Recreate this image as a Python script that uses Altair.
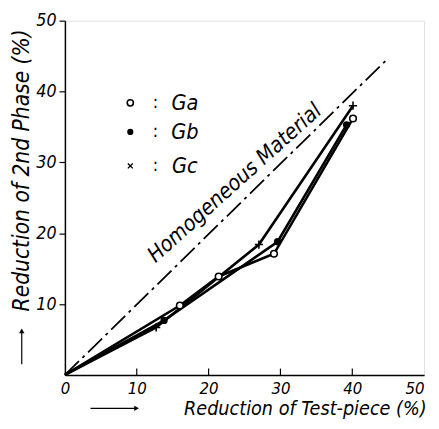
import altair as alt
import pandas as pd

# ---- data ----
series_names = ["Ga", "Gb", "Gc"]
ga_x = [0, 16.0, 21.4, 29.1, 40.1]
ga_y = [0, 9.8, 13.9, 17.1, 36.2]
gb_x = [0, 13.8, 29.6, 39.2]
gb_y = [0, 7.7, 18.8, 35.3]
gc_x = [0, 12.7, 27.0, 40.1]
gc_y = [0, 6.7, 18.4, 38.0]
homog_x = [0, 45.0]
homog_y = [0, 44.7]
tick_values = [0, 10, 20, 30, 40, 50]
inner_ticks = [10, 20, 30, 40]
legend_y = [38.4, 34.3, 29.5]
legend_marker_x = 9.1
legend_colon_x = 12.6
legend_text_x = 16.7
homog_label = "Homogeneous Material"
homog_label_pos = (23.6, 27.1)

TITLE_FONT = "DejaVu Sans Condensed, DejaVu Sans"
LABEL_FONT = "DejaVu Sans Condensed, DejaVu Sans"

rows = []
for name, xs_, ys_ in zip(series_names, [ga_x, gb_x, gc_x], [ga_y, gb_y, gc_y]):
    for i, (a, b) in enumerate(zip(xs_, ys_)):
        rows.append({"series": name, "x": a, "y": b, "order": i})
df = pd.DataFrame(rows)
pts = df[df["x"] > 0]

xs = alt.Scale(domain=[0, 50], nice=False)
ys = alt.Scale(domain=[0, 50], nice=False)

xaxis = alt.Axis(values=tick_values, ticks=False, labelFont=LABEL_FONT, labelFontStyle="italic",
                 labelFontSize=17, labelPadding=6, labelColor="black",
                 labelAlign=alt.ExprRef(expr="datum.value == 50 ? 'right' : 'center'"),
                 title="Reduction of Test-piece (%)", titleFont=TITLE_FONT, titleFontStyle="italic",
                 titleFontWeight="normal", titleFontSize=20, titleAlign="right", titleX=368,
                 titleY=40, titleBaseline="alphabetic", titleColor="black",
                 domainColor="black", domainWidth=1.5, grid=False, labelFlush=False)
yaxis = alt.Axis(values=[10, 20, 30, 40, 50], tickSize=6, tickColor="black", tickWidth=1.2,
                 labelFont=LABEL_FONT, labelFontStyle="italic", labelFontSize=18, labelPadding=3,
                 labelColor="black",
                 title="Reduction of 2nd Phase (%)", titleFont=TITLE_FONT, titleFontStyle="italic",
                 titleFontWeight="normal", titleFontSize=23, titleAngle=270, titleX=-37, titleY=152,
                 titleAlign="center", titleBaseline="alphabetic", titleColor="black",
                 domainColor="black", domainWidth=1.5, grid=False)

base = alt.Chart(df)

lines = base.mark_line(color="black", strokeWidth=2.6).encode(
    x=alt.X("x:Q", scale=xs, axis=xaxis),
    y=alt.Y("y:Q", scale=ys, axis=yaxis),
    detail="series:N",
    order="order:Q",
)

homog_df = pd.DataFrame({"x": homog_x, "y": homog_y})
homog = alt.Chart(homog_df).mark_line(color="black", strokeWidth=1.8, strokeDash=[20, 5, 3, 5]).encode(
    x=alt.X("x:Q", scale=xs), y=alt.Y("y:Q", scale=ys)
)

ga_pts = alt.Chart(pts[pts.series == "Ga"]).mark_point(
    shape="circle", size=45, filled=True, fill="white", stroke="black", strokeWidth=1.6, opacity=1
).encode(x=alt.X("x:Q", scale=xs), y=alt.Y("y:Q", scale=ys))
gb_pts = alt.Chart(pts[pts.series == "Gb"]).mark_point(
    shape="circle", size=55, filled=True, color="black", opacity=1
).encode(x=alt.X("x:Q", scale=xs), y=alt.Y("y:Q", scale=ys))
cross_path = "M-1,0L1,0M0,-1L0,1"
gc_pts = alt.Chart(pts[pts.series == "Gc"]).mark_point(
    shape=cross_path, size=70, filled=False, stroke="black", strokeWidth=1.6, opacity=1
).encode(x=alt.X("x:Q", scale=xs), y=alt.Y("y:Q", scale=ys))

# inward x ticks
tick_df = pd.DataFrame({"x": inner_ticks, "y0": [0] * 4, "y1": [0.9] * 4})
xticks = alt.Chart(tick_df).mark_rule(color="black", strokeWidth=1.2).encode(
    x=alt.X("x:Q", scale=xs), y=alt.Y("y0:Q", scale=ys), y2="y1:Q"
)

# legend drawn in the plot
leg_df = pd.DataFrame({"name": series_names, "y": legend_y,
                       "mx": [legend_marker_x] * 3, "cx": [legend_colon_x] * 3,
                       "tx": [legend_text_x] * 3})
leg_ga = alt.Chart(leg_df[leg_df.name == "Ga"]).mark_point(
    shape="circle", size=40, filled=True, fill="white", stroke="black", strokeWidth=1.6, opacity=1
).encode(x=alt.X("mx:Q", scale=xs), y=alt.Y("y:Q", scale=ys))
leg_gb = alt.Chart(leg_df[leg_df.name == "Gb"]).mark_point(
    shape="circle", size=40, filled=True, color="black", opacity=1
).encode(x=alt.X("mx:Q", scale=xs), y=alt.Y("y:Q", scale=ys))
leg_gc = alt.Chart(leg_df[leg_df.name == "Gc"]).mark_point(
    shape=cross_path, size=50, angle=45, filled=False, stroke="black", strokeWidth=1.4, opacity=1
).encode(x=alt.X("mx:Q", scale=xs), y=alt.Y("y:Q", scale=ys))
leg_colon = alt.Chart(leg_df).mark_text(text=":", font=TITLE_FONT, fontSize=18, color="black").encode(
    x=alt.X("cx:Q", scale=xs), y=alt.Y("y:Q", scale=ys)
)
leg_text = alt.Chart(leg_df).mark_text(font=TITLE_FONT, fontStyle="italic", fontSize=22,
                                       color="black", align="center", baseline="middle").encode(
    x=alt.X("tx:Q", scale=xs), y=alt.Y("y:Q", scale=ys), text="name:N"
)

hl_df = pd.DataFrame({"x": [homog_label_pos[0]], "y": [homog_label_pos[1]], "t": [homog_label]})
homog_text = alt.Chart(hl_df).mark_text(font=TITLE_FONT, fontStyle="italic", fontSize=22,
                                        angle=318, color="black", align="center",
                                        baseline="middle").encode(
    x=alt.X("x:Q", scale=xs), y=alt.Y("y:Q", scale=ys), text="t:N"
)

# arrows beside the axis titles
arr_df = pd.DataFrame({"k": [0]})
x_arrow = alt.Chart(arr_df).mark_rule(color="black", strokeWidth=1.2).encode(
    x=alt.value(26), x2=alt.value(72), y=alt.value(395)
)
x_head = alt.Chart(arr_df).mark_point(shape="triangle-right", size=30, filled=True, color="black",
                                      opacity=1).encode(x=alt.value(73), y=alt.value(395))
y_arrow = alt.Chart(arr_df).mark_rule(color="black", strokeWidth=1.2).encode(
    x=alt.value(-44), y=alt.value(350), y2=alt.value(317)
)
y_head = alt.Chart(arr_df).mark_point(shape="triangle-up", size=30, filled=True, color="black",
                                      opacity=1).encode(x=alt.value(-44), y=alt.value(316))

chart = alt.layer(
    homog, lines, xticks, ga_pts, gb_pts, gc_pts,
    leg_ga, leg_gb, leg_gc, leg_colon, leg_text, homog_text,
    x_arrow, x_head, y_arrow, y_head
).properties(
    width=366, height=361,
    autosize=alt.AutoSizeParams(type="none"),
    padding={"left": 58, "top": 9, "right": 7, "bottom": 43},
).configure_view(stroke="black", strokeWidth=1.5).configure(background="white")

chart.save("out.html", embed_options={"renderer": "svg", "actions": False})
